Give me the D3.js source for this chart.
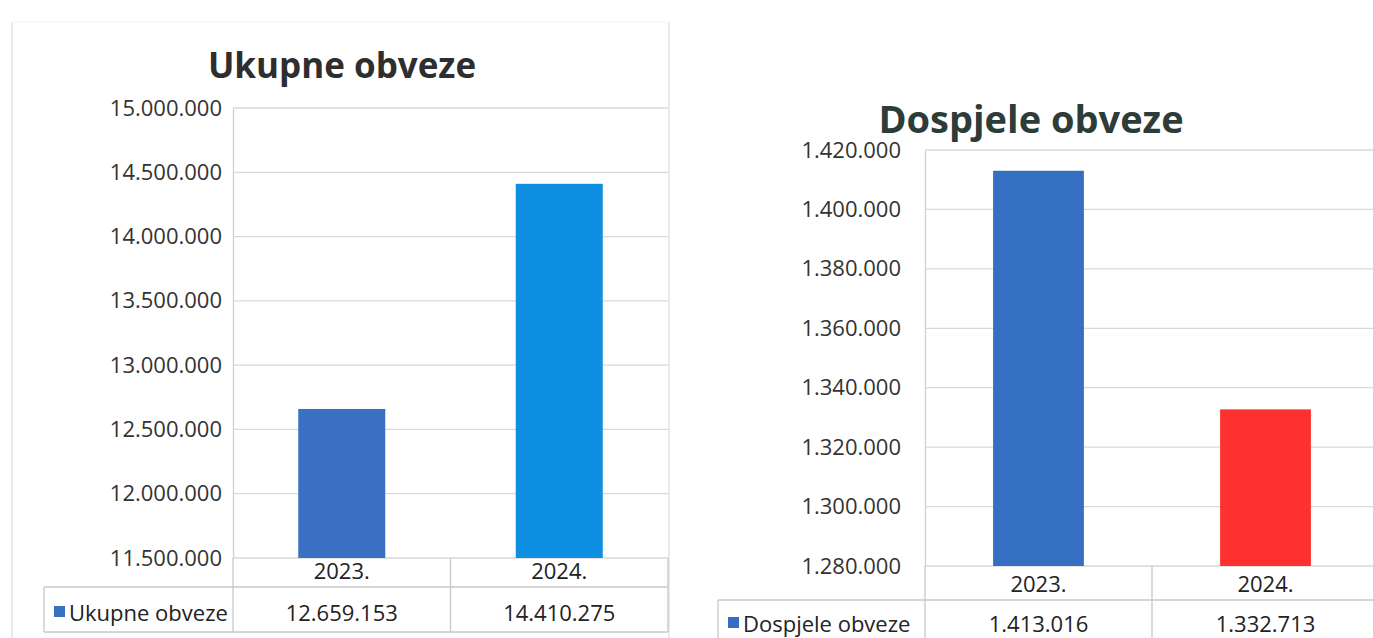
<!DOCTYPE html>
<html>
<head>
<meta charset="utf-8">
<script src="https://cdn.jsdelivr.net/npm/d3@7"></script>
<style>
body { margin: 0; background: #fff; }
text { font-family: "Open Sans", "Noto Sans", sans-serif; }
</style>
</head>
<body>
<div id="chart"></div>
<script>
var categories = ["2023.", "2024."];
var ukupneValues = [12659153, 14410275];
var ukupneTicks = [11500000, 12000000, 12500000, 13000000, 13500000, 14000000, 14500000, 15000000];
var dospjeleValues = [1413016, 1332713];
var dospjeleTicks = [1280000, 1300000, 1320000, 1340000, 1360000, 1380000, 1400000, 1420000];

var locale = d3.formatLocale({decimal: ",", thousands: ".", grouping: [3], currency: ["", ""]});
var fmt = locale.format(",d");

var svg = d3.select("#chart").append("svg")
    .attr("width", 1373)
    .attr("height", 638);

svg.append("rect").attr("width", 1373).attr("height", 638).attr("fill", "#fff");

// outer frame of the left chart
svg.append("path")
    .attr("d", "M12,22 V638 M669,22 V638")
    .attr("fill", "none")
    .attr("stroke", "#e3e3e3")
    .attr("stroke-width", 1.5);
svg.append("path")
    .attr("d", "M12,22 H669")
    .attr("fill", "none")
    .attr("stroke", "#f3f3f3")
    .attr("stroke-width", 1);

function draw_chart(opt) {
    var g = svg.append("g");

    var y = d3.scaleLinear()
        .domain([opt.ticks[0], opt.ticks[opt.ticks.length - 1]])
        .range([opt.bottom, opt.top]);

    var x = d3.scaleBand()
        .domain(opt.categories)
        .range([opt.left, opt.right])
        .paddingInner(0.6)
        .paddingOuter(0.3);

    var band = d3.scaleBand()
        .domain(opt.categories)
        .range([opt.left, opt.right]);

    // gridlines
    g.selectAll(".grid")
        .data(opt.ticks)
        .enter()
        .append("line")
        .attr("x1", opt.left)
        .attr("x2", opt.right)
        .attr("y1", function(d) { return y(d); })
        .attr("y2", function(d) { return y(d); })
        .attr("stroke", "#d9d9d9")
        .attr("stroke-width", 1.3);

    // y axis
    var axis = g.append("g")
        .attr("transform", "translate(" + opt.left + ",0)")
        .call(d3.axisLeft(y).tickValues(opt.ticks).tickFormat(fmt).tickSize(0).tickPadding(opt.tickPad));
    axis.select(".domain").attr("stroke", "#cfcfcf").attr("stroke-width", 1.3);
    axis.selectAll("text")
        .attr("font-size", opt.tickSize)
        .attr("fill", "#333")
        .attr("font-family", "'Open Sans', sans-serif");

    // bars
    g.selectAll(".bar")
        .data(opt.values)
        .enter()
        .append("rect")
        .attr("x", function(d, i) { return x(opt.categories[i]); })
        .attr("width", x.bandwidth())
        .attr("y", function(d) { return y(d); })
        .attr("height", function(d) { return opt.bottom - y(d); })
        .attr("fill", function(d, i) { return opt.colors[i]; });

    // data table
    var row1 = opt.bottom + opt.row1;
    var row2 = row1 + opt.row2;
    var lines = g.append("g")
        .attr("stroke", "#c8c8c8")
        .attr("stroke-width", 1.3)
        .attr("fill", "none");
    lines.append("line").attr("x1", opt.left).attr("x2", opt.left).attr("y1", opt.bottom).attr("y2", row2);
    lines.append("line").attr("x1", opt.legendLeft).attr("x2", opt.right).attr("y1", row1).attr("y2", row1);
    lines.append("line").attr("x1", opt.legendLeft).attr("x2", opt.legendLeft).attr("y1", row1).attr("y2", row2);
    lines.append("line").attr("x1", opt.legendLeft).attr("x2", opt.right).attr("y1", row2).attr("y2", row2);
    lines.selectAll(".sep")
        .data(opt.categories.slice(1))
        .enter()
        .append("line")
        .attr("x1", function(d) { return band(d); })
        .attr("x2", function(d) { return band(d); })
        .attr("y1", opt.bottom)
        .attr("y2", row2);
    lines.append("line").attr("x1", opt.right).attr("x2", opt.right).attr("y1", opt.bottom).attr("y2", row2);

    g.selectAll(".cat")
        .data(opt.categories)
        .enter()
        .append("text")
        .attr("x", function(d) { return band(d) + band.bandwidth() / 2; })
        .attr("y", row1 - 8)
        .attr("text-anchor", "middle")
        .attr("font-size", opt.tickSize)
        .attr("fill", "#222")
        .text(function(d) { return d; });

    g.selectAll(".val")
        .data(opt.values)
        .enter()
        .append("text")
        .attr("x", function(d, i) { return band(opt.categories[i]) + band.bandwidth() / 2; })
        .attr("y", row1 + opt.valueDy)
        .attr("text-anchor", "middle")
        .attr("font-size", opt.tickSize)
        .attr("fill", "#222")
        .text(function(d) { return fmt(d); });

    g.append("rect")
        .attr("x", opt.legendLeft + 10)
        .attr("y", row1 + opt.valueDy - 15)
        .attr("width", 11)
        .attr("height", 11)
        .attr("fill", opt.colors[0]);

    g.append("text")
        .attr("x", opt.legendLeft + 25)
        .attr("y", row1 + opt.valueDy)
        .attr("font-size", opt.tickSize)
        .attr("fill", "#222")
        .text(opt.title);

    // title
    g.append("text")
        .attr("x", opt.titleX)
        .attr("y", opt.titleY)
        .attr("text-anchor", "middle")
        .attr("font-size", opt.titleSize)
        .attr("font-weight", "bold")
        .attr("fill", opt.titleColor)
        .text(opt.title);
}

draw_chart({
    title: "Ukupne obveze",
    categories: categories,
    values: ukupneValues,
    ticks: ukupneTicks,
    colors: ["#3a70c2", "#0f8fe2"],
    left: 233, right: 668, top: 108, bottom: 558,
    legendLeft: 44, row1: 29, row2: 45, valueDy: 34,
    tickSize: 22, tickPad: 11,
    titleX: 342, titleY: 78, titleSize: 35, titleColor: "#2e2e2e"
});

draw_chart({
    title: "Dospjele obveze",
    categories: categories,
    values: dospjeleValues,
    ticks: dospjeleTicks,
    colors: ["#356fc1", "#ff3030"],
    left: 925, right: 1379, top: 150, bottom: 566,
    legendLeft: 718, row1: 34, row2: 45, valueDy: 32,
    tickSize: 22, tickPad: 24,
    titleX: 1031, titleY: 133, titleSize: 38, titleColor: "#2d3c37"
});
</script>
</body>
</html>
